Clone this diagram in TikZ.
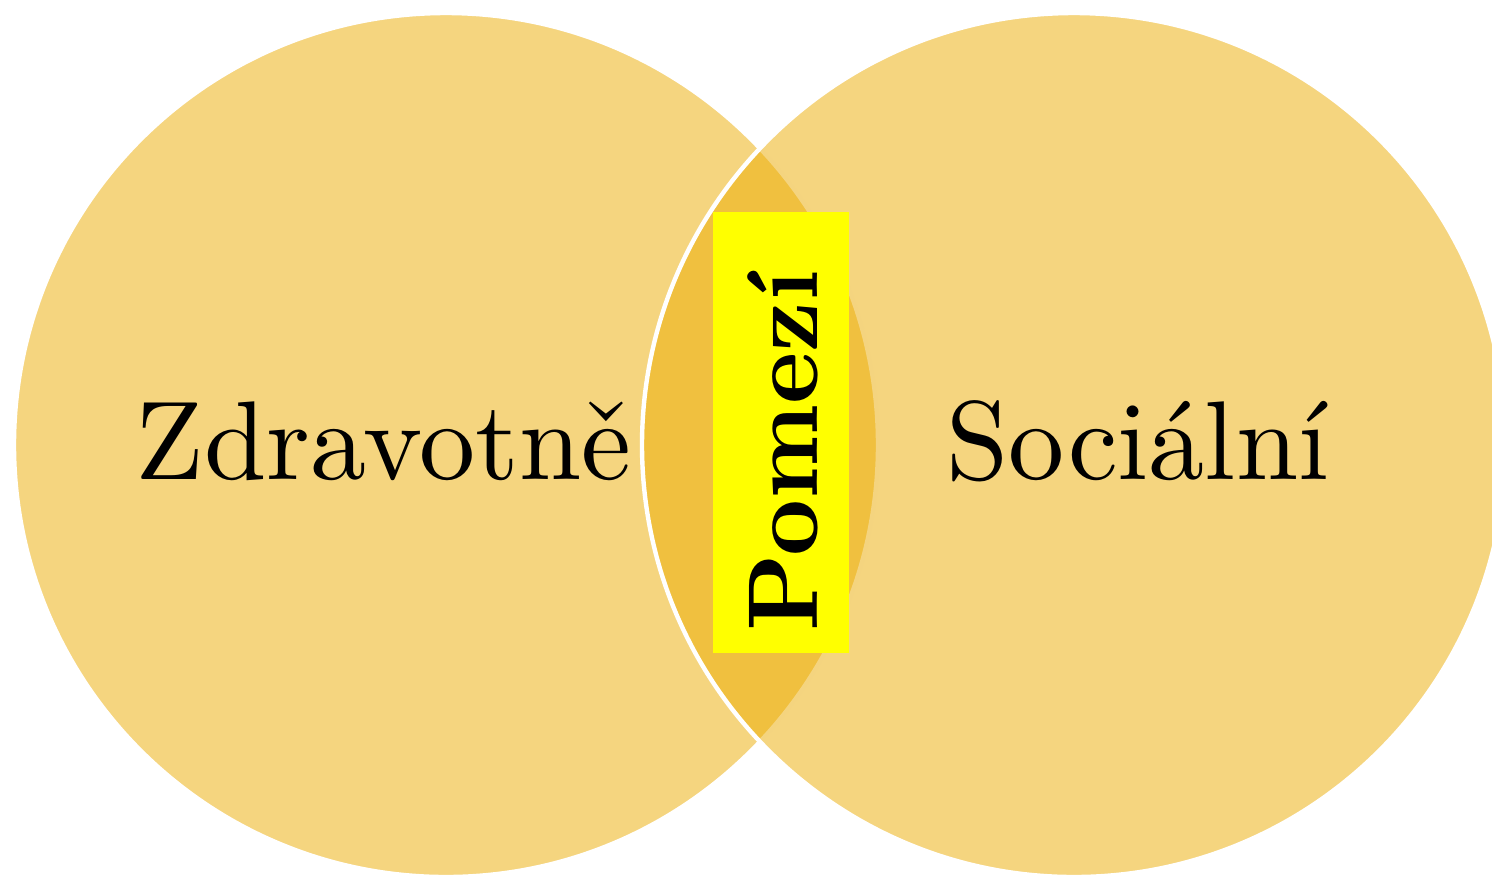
\documentclass[tikz,border=0pt]{standalone}
\usepackage{fontspec}
\setmainfont{lmroman10}[Extension=.otf, UprightFont=*-regular, BoldFont=*-bold, ItalicFont=*-italic, BoldItalicFont=*-bolditalic]
\definecolor{venn}{RGB}{235,171,0}
\definecolor{bandyellow}{RGB}{255,255,0}
\tikzset{
  set/.style={circle, minimum size=432pt, inner sep=0pt, fill=venn, fill opacity=0.5, draw=white, line width=2.2pt},
  settext/.style={font=\fontsize{56}{60}\selectfont, inner sep=0pt, anchor=base},
  bandbox/.style={rectangle, fill=bandyellow, minimum width=68pt, minimum height=220.5pt, inner sep=0pt},
  bandtext/.style={font=\fontsize{49.6}{55}\selectfont\bfseries, inner sep=0pt, anchor=base, rotate=90}
}
\begin{document}
\begin{tikzpicture}[x=0.5pt,y=-0.5pt]
\useasboundingbox (0,0) rectangle (1492,875);
\clip (0,0) rectangle (1492,875);
\node[set] (L) at (446,445) {};
\node[set] (R) at (1074,445) {};
\node[settext] (zdrav) at (383.5,479) {Zdravotně};
\node[settext] (soc) at (1138,479) {Sociální};
\node[bandbox] (box) at (781,432.5) {};
\node[bandtext] (pomezi) at (817,451) {Pomezí};
\end{tikzpicture}
\end{document}
